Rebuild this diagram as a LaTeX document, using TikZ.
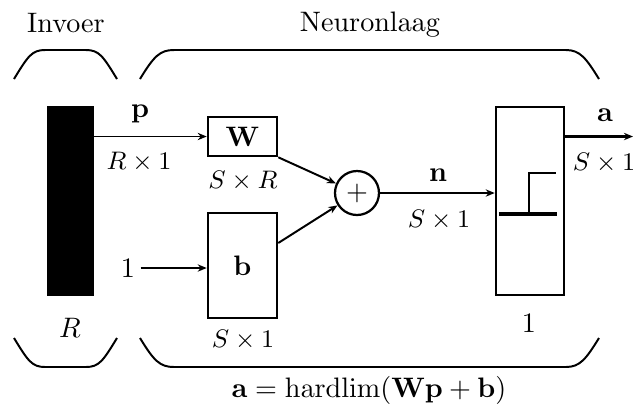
\documentclass[tikz,border=0pt]{standalone}
\usepackage{amsmath}
\usetikzlibrary{arrows.meta, positioning, calc}
\newcommand{\unitpx}{0.355pt}

\begin{document}
\begin{tikzpicture}[x=0.355pt, y=-0.355pt,
    block/.style={rectangle, draw, line width=0.9pt, inner sep=0pt},
    arrow/.style={-{Stealth[length=3.2pt, width=2.6pt]}, line width=0.7pt},
    brace/.style={line width=0.7pt},
    dimlabel/.style={inner sep=0pt, font=\fontsize{9.2}{11}\selectfont}
]
    \useasboundingbox (0,0) rectangle (634,413);

    % Titles
    \node (invoer) at (66,23) {Invoer};
    \node (laag)   at (370,25) {Neuronlaag};

    % Braces (top)
    \draw[brace] (14,79) .. controls (28,56) and (32,50) .. (45,50) -- (86,50)
        .. controls (99,50) and (103,56) .. (117,79);
    \draw[brace] (140,79) .. controls (154,56) and (160,50) .. (174,50) -- (566,50)
        .. controls (580,50) and (586,58) .. (599,79);
    % Braces (bottom)
    \draw[brace] (14,338) .. controls (28,361) and (32,367) .. (45,367) -- (86,367)
        .. controls (99,367) and (103,361) .. (117,338);
    \draw[brace] (140,338) .. controls (154,361) and (160,367) .. (174,367) -- (566,367)
        .. controls (580,367) and (586,359) .. (599,338);

    % Blocks
    \node[block, fill=black, minimum width=45*\unitpx, minimum height=188*\unitpx] (inp) at (70.5,201) {};
    \node[block, minimum width=69*\unitpx, minimum height=39*\unitpx] (W) at (242.5,136.5) {$\mathbf{W}$};
    \node[block, minimum width=69*\unitpx, minimum height=105*\unitpx] (b) at (242.5,265.5) {$\mathbf{b}$};
    \node[circle, draw, line width=0.8pt, inner sep=0pt, minimum size=44*\unitpx] (sum) at (357,193) {$+$};
    \node[block, minimum width=68*\unitpx, minimum height=188*\unitpx] (hl) at (530,201) {};

    % Step function inside hardlim
    \draw[line width=1.4pt] (499,214) -- (557,214);
    \draw[line width=0.8pt] (529,214) -- (529,173) -- (556,173);

    % Inputs
    \node[inner sep=1.8pt] (one) at (128,268) {$1$};
    \coordinate (aout) at (633,136.5);

    % Connectors
    \draw[arrow] (inp.east |- W.west) -- (W.west);
    \draw[arrow] (one.east) -- (one.east -| b.west);
    \draw[arrow] (W.south east) -- (sum);
    \draw[arrow] ($(b.east)+(0,-22.5)$) -- (sum);
    \draw[arrow] (sum.east) -- (sum.east -| hl.west);
    \draw[arrow, line width=1.4pt] (hl.east |- aout) -- (aout);

    % Labels
    \node[inner sep=0pt] (plab) at (140,114) {$\mathbf{p}$};
    \node[inner sep=0pt] (nlab) at (438,175) {$\mathbf{n}$};
    \node[inner sep=0pt] (alab) at (605,115) {$\mathbf{a}$};
    \node[inner sep=0pt] (Rlab) at (70,328) {$R$};
    \node[inner sep=0pt] (hlab) at (529,323) {$1$};
    \node[dimlabel] (pdim) at (139,162) {$R\times 1$};
    \node[dimlabel] (Wdim) at (243,181) {$S\times R$};
    \node[dimlabel] (bdim) at (243,340) {$S\times 1$};
    \node[dimlabel] (ndim) at (439,220) {$S\times 1$};
    \node[dimlabel] (adim) at (604,163) {$S\times 1$};

    % Equation
    \node (eq) at (369,390) {$\mathbf{a} = \operatorname{hardlim}(\mathbf{W}\mathbf{p} + \mathbf{b})$};
\end{tikzpicture}
\end{document}
